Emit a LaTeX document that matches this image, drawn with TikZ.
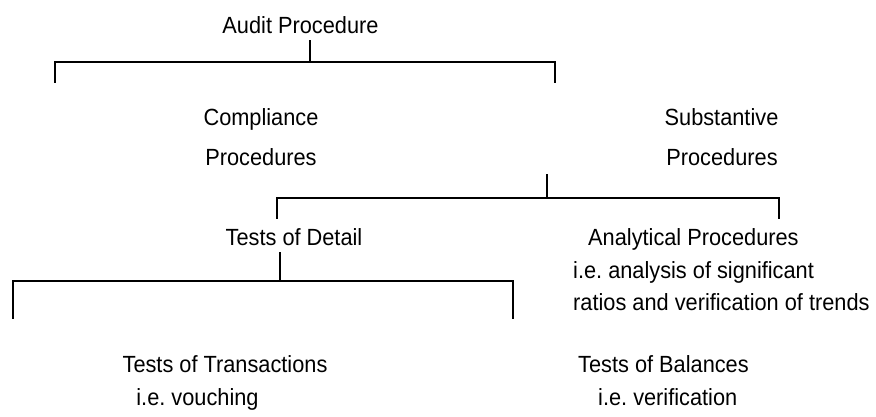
\documentclass[tikz,border=0pt]{standalone}
\usepackage{fontspec}
\setmainfont{Liberation Sans}[FakeStretch=0.93]
\frenchspacing
\begin{document}
\begin{tikzpicture}[x=1pt,y=-1pt,
  lbl/.style={inner sep=0pt, anchor=base, font=\fontsize{23.4}{27}\selectfont},
  lblw/.style={lbl, anchor=base west},
  conn/.style={line width=1.6pt, line cap=rect}]
\useasboundingbox (0,0) rectangle (876,416);
% texts
\node[lbl] (audit) at (300.5,33) {Audit Procedure};
\node[lbl] (comp1) at (261,125) {Compliance};
\node[lbl] (comp2) at (261,165) {Procedures};
\node[lbl] (subs1) at (721.5,125) {Substantive};
\node[lbl] (subs2) at (722,165) {Procedures};
\node[lbl] (detail) at (294,245) {Tests of Detail};
\node[lblw] (anal) at (588,245) {Analytical Procedures};
\node[lblw] (anal2) at (573,278) {i.e. analysis of significant};
\node[lblw] (anal3) at (573,310) {ratios and verification of trends};
\node[lbl] (trans) at (225,372) {Tests of Transactions};
\node[lbl] (trans2) at (197.5,405) {i.e. vouching};
\node[lblw] (bal) at (578,372) {Tests of Balances};
\node[lblw] (bal2) at (598,405) {i.e. verification};
% bracket 1
\coordinate (t1a) at (310,41);
\coordinate (t1b) at (310,62);
\coordinate (b1l) at (55,62);
\coordinate (b1r) at (555,62);
\coordinate (b1ld) at (55,82);
\coordinate (b1rd) at (555,82);
\draw[conn] (t1a) -- (t1b);
\draw[conn] (b1ld) -- (b1l) -- (b1r) -- (b1rd);
% bracket 2
\coordinate (t2a) at (547,175);
\coordinate (t2b) at (547,198);
\coordinate (b2l) at (277,198);
\coordinate (b2r) at (779,198);
\coordinate (b2ld) at (277,218);
\coordinate (b2rd) at (779,218);
\draw[conn] (t2a) -- (t2b);
\draw[conn] (b2ld) -- (b2l) -- (b2r) -- (b2rd);
% bracket 3
\coordinate (t3a) at (280,253);
\coordinate (t3b) at (280,281);
\coordinate (b3l) at (13,281);
\coordinate (b3r) at (513,281);
\coordinate (b3ld) at (13,318);
\coordinate (b3rd) at (513,318);
\draw[conn] (t3a) -- (t3b);
\draw[conn] (b3ld) -- (b3l) -- (b3r) -- (b3rd);
\end{tikzpicture}
\end{document}
